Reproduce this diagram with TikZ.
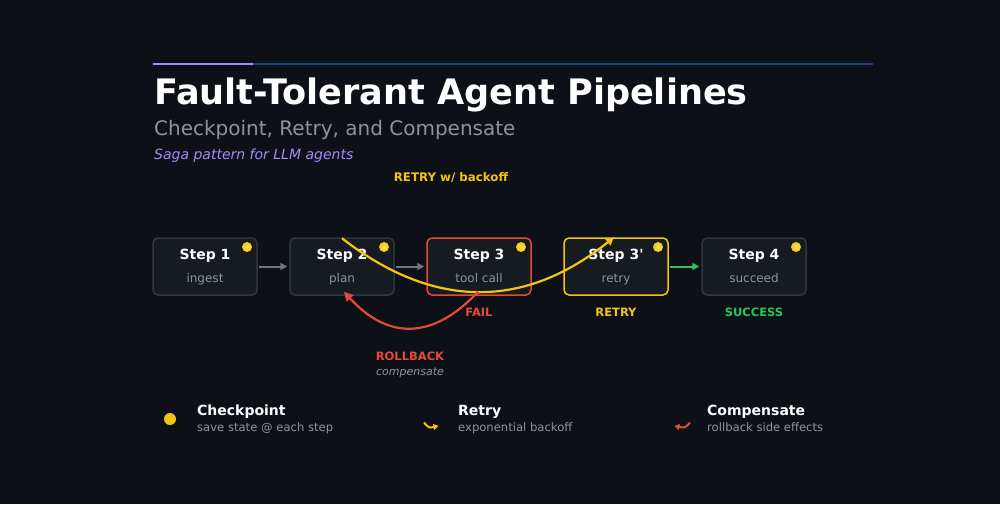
\documentclass[tikz,border=0pt]{standalone}
\usepackage{fontspec}
\setmainfont{DejaVu Sans}
\usetikzlibrary{arrows.meta,calc}
\font\aposB="DejaVu Sans/B" at 14pt
\definecolor{bg}{HTML}{0D1017}
\definecolor{boxfill}{HTML}{161B22}
\definecolor{boxline}{HTML}{30363D}
\definecolor{muted}{HTML}{8B949E}
\definecolor{arrowgray}{HTML}{6E7681}
\definecolor{ylw}{HTML}{F2C511}
\definecolor{ylwhi}{HTML}{FFE066}
\definecolor{rd}{HTML}{E5493A}
\definecolor{grn}{HTML}{2CC25F}
\definecolor{purp}{HTML}{A78BFA}
\definecolor{topblue}{HTML}{1F3F7A}
\begin{document}
\begin{tikzpicture}[x=1pt,y=-1pt,
  stepbox/.style={draw=boxline,fill=boxfill,rounded corners=5pt,line width=1.5pt,minimum width=104pt,minimum height=57pt,inner sep=0pt},
  stepttl/.style={anchor=base,text=white,font=\bfseries\fontsize{14}{16}\selectfont,inner sep=0pt},
  stepsub/.style={anchor=base,text=muted,font=\fontsize{12}{14}\selectfont,inner sep=0pt},
  cdot/.style={circle,inner sep=0pt,minimum size=10pt,shading=radial,inner color=ylwhi,outer color=ylw,draw=none},
  flow/.style={-{Triangle[length=7pt,width=7pt]},line width=2pt},
  tag/.style={anchor=base,font=\bfseries\fontsize{11.5}{13}\selectfont,inner sep=0pt},
  legttl/.style={anchor=base west,text=white,font=\bfseries\fontsize{14}{16}\selectfont,inner sep=0pt},
  legsub/.style={anchor=base west,text=muted,font=\fontsize{11.6}{14}\selectfont,inner sep=0pt}]
\fill[bg] (0,0) rectangle (1000,504);
\useasboundingbox (0,0) rectangle (1000,504);
% top rule
\coordinate (r0) at (153,64);
\coordinate (r1) at (253,64);
\coordinate (r2) at (873,64);
\draw[topblue,line width=2.2pt] (r1) -- (r2);
\draw[purp,line width=2.2pt] (r0) -- (r1);
% titles
\node[anchor=base west,inner sep=0pt,text=white,font=\bfseries\fontsize{35.1}{40}\selectfont] (title) at (154,104) {Fault-Tolerant Agent Pipelines};
\node[anchor=base west,inner sep=0pt,text=muted,font=\fontsize{20}{22}\selectfont] (sub) at (154,135) {Checkpoint, Retry, and Compensate};
\node[anchor=base west,inner sep=0pt,text=purp,font=\itshape\fontsize{14}{16}\selectfont] (saga) at (154,159) {Saga pattern for LLM agents};
% steps
\node[stepbox] (s1) at (205,266.5) {};
\node[stepbox] (s2) at (342,266.5) {};
\node[stepbox,draw=rd] (s3) at (479,266.5) {};
\node[stepbox,draw=ylw] (s3p) at (616,266.5) {};
\node[stepbox] (s4) at (754,266.5) {};
\foreach \n/\x/\t/\s in {s1/205/Step 1/ingest, s2/342/Step 2/plan, s3/479/Step 3/tool call, s3p/616/{Step 3{\aposB'}}/retry, s4/754/Step 4/succeed}{
  \node[stepttl] (\n t) at (\x,259.5) {\t};
  \node[stepsub] (\n s) at (\x,282) {\s};
  \node[cdot] (\n d) at ($(\x,247)+(42,0)$) {};
}
% forward arrows
\draw[flow,arrowgray] ([xshift=1pt]s1.east) -- ([xshift=-2pt]s2.west);
\draw[flow,arrowgray] ([xshift=1pt]s2.east) -- ([xshift=-2pt]s3.west);
\draw[flow,grn] ([xshift=1pt]s3p.east) -- ([xshift=-2pt]s4.west);
% retry curve
\draw[ylw,line width=2.2pt,-{Triangle[length=8pt,width=8pt]}] ([yshift=-1pt]s2.north) .. controls (434,310) and (525,309) .. ([xshift=-2pt]s3p.north);
\node[tag,text=ylw,font=\bfseries\fontsize{11.8}{13}\selectfont] (retrylbl) at (451,181) {RETRY w/ backoff};
% rollback curve
\draw[rd,line width=2.2pt,-{Triangle[length=9pt,width=9pt]}] ([yshift=4pt,xshift=-1pt]s3.south) .. controls (433,340) and (388,340) .. ([yshift=4pt,xshift=2pt]s2.south);
\node[tag,text=rd] (rb) at (410,360) {ROLLBACK};
\node[anchor=base,inner sep=0pt,text=muted,font=\itshape\fontsize{11}{13}\selectfont] (comp) at (410,375) {compensate};
% status tags
\node[tag,text=rd] (fail) at (479,316) {FAIL};
\node[tag,text=ylw] (retry) at (616,316) {RETRY};
\node[tag,text=grn] (succ) at (754,316) {SUCCESS};
% legend
\node[circle,fill=ylw,inner sep=0pt,minimum size=12pt] (legdot) at (170,419) {};
\node[legttl] (l1t) at (197,415) {Checkpoint};
\node[legsub] (l1s) at (197,431) {save state @ each step};
\coordinate (ya) at (424,422.5);
\coordinate (yb) at (438.5,426);
\draw[ylw,line width=2pt,-{Triangle[length=5pt,width=6pt]}] (ya) .. controls (429,428) .. (yb);
\node[legttl] (l2t) at (458,415) {Retry};
\node[legsub] (l2s) at (458,431) {exponential backoff};
\coordinate (ra) at (690,422.5);
\coordinate (rb2) at (674.5,426);
\draw[rd,line width=2pt,-{Triangle[length=5pt,width=6pt]}] (ra) .. controls (685,428) .. (rb2);
\node[legttl] (l3t) at (707,415) {Compensate};
\node[legsub] (l3s) at (707,431) {rollback side effects};
\end{tikzpicture}
\end{document}
